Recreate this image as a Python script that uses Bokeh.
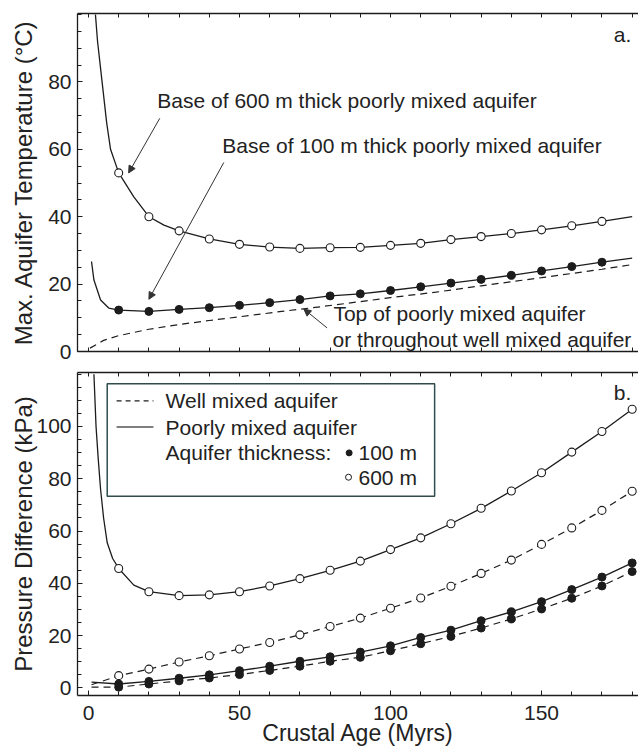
from bokeh.plotting import figure
from bokeh.models import FixedTicker, LinearAxis, Label, Arrow, NormalHead, Range1d, Div
from bokeh.layouts import column
from bokeh.embed import file_html
from bokeh.resources import INLINE

FONT = "Liberation Sans"
INK = "#1c1c1c"
TXT = "#222222"

# ---------------- data ----------------
ages_top = [10, 20, 30, 40, 50, 60, 70, 80, 90, 100, 110, 120, 130, 140, 150, 160, 170]
ages_bot = [10, 20, 30, 40, 50, 60, 70, 80, 90, 100, 110, 120, 130, 140, 150, 160, 170, 180]

# (a) maximum aquifer temperature, degC
temp_600_pts = [53.0, 40.0, 35.8, 33.4, 31.8, 31.0, 30.6, 30.8, 30.9, 31.5, 32.1, 33.2,
                34.1, 35.0, 36.1, 37.3, 38.6]
temp_100_pts = [12.3, 11.9, 12.5, 13.0, 13.7, 14.5, 15.4, 16.5, 17.1, 18.1, 19.2, 20.3,
                21.4, 22.6, 23.9, 25.2, 26.5]
# continuous curves (age, value)
temp_600_curve_x = [2.3, 3.0, 4.0, 4.5, 6.0, 7.3, 10, 15, 20, 25, 30, 40, 50, 60, 70, 80, 90,
                    100, 110, 120, 130, 140, 150, 160, 170, 180]
temp_600_curve_y = [100, 92, 84, 80, 68, 60, 53.0, 45.9, 40.0, 37.5, 35.8, 33.4, 31.8, 31.0,
                    30.6, 30.8, 30.9, 31.5, 32.1, 33.2, 34.1, 35.0, 36.1, 37.3, 38.6, 40.0]
temp_100_curve_x = [1.0, 1.8, 4.0, 6.7, 10, 20, 30, 40, 50, 60, 70, 80, 90, 100, 110, 120,
                    130, 140, 150, 160, 170, 180]
temp_100_curve_y = [26.7, 21.2, 15.3, 12.9, 12.3, 11.9, 12.5, 13.0, 13.7, 14.5, 15.4, 16.5,
                    17.1, 18.1, 19.2, 20.3, 21.4, 22.6, 23.9, 25.2, 26.5, 27.7]
temp_top_x = [0.5, 5, 10, 20, 30, 40, 50, 64, 77, 90, 100, 115, 130, 150, 170, 180]
temp_top_y = [1.0, 3.3, 4.7, 6.6, 8.0, 9.2, 10.3, 11.9, 13.3, 14.8, 16.0, 17.6, 19.5,
              21.9, 24.4, 25.8]

# (b) pressure difference, kPa
pres_600_poor = [45.7, 36.8, 35.3, 35.6, 36.8, 39.0, 41.8, 45.0, 48.5, 52.9, 57.4, 62.8,
                 68.7, 75.3, 82.3, 90.2, 98.1, 106.6]
pres_600_well = [4.7, 7.2, 9.9, 12.3, 14.9, 17.4, 20.3, 23.5, 26.7, 30.5, 34.4, 38.9,
                 43.8, 48.9, 54.9, 61.2, 67.9, 75.2]
pres_100_poor = [1.5, 2.5, 3.7, 5.0, 6.6, 8.3, 10.2, 11.9, 13.7, 16.1, 19.3, 22.1,
                 25.7, 29.1, 33.0, 37.6, 42.4, 47.8]
pres_100_well = [0.3, 1.5, 2.7, 3.8, 5.1, 6.7, 8.3, 10.2, 11.7, 14.2, 16.9, 19.7,
                 22.9, 26.4, 30.2, 34.3, 39.0, 44.5]
pres_600_poor_start_x = [1.8, 2.5, 3.2, 4.0, 5.0, 6.2, 8.0, 10, 15, 20]
pres_600_poor_start_y = [120, 100, 88, 76, 65, 55.5, 49.5, 45.7, 39.3, 36.8]
start_age = 1.0
pres_600_well_start = 1.2
pres_100_poor_start = 2.2
pres_100_well_start = 0.3

x_ticks = [0, 50, 100, 150]
x_minor = list(range(0, 181, 10))

X_LO, X_HI = -3.64, 182.1
B_LO, B_HI = -2.9, 120.65


def base_axis(ax):
    ax.axis_line_color = INK
    ax.axis_line_width = 1.3
    ax.major_tick_line_color = INK
    ax.minor_tick_line_color = INK
    ax.major_tick_in = 5
    ax.major_tick_out = 0
    ax.minor_tick_in = 4
    ax.minor_tick_out = 0
    ax.major_label_text_font = FONT
    ax.major_label_text_color = TXT
    ax.major_label_text_font_size = "21px"
    ax.axis_label_text_font = FONT
    ax.axis_label_text_font_style = "normal"
    ax.axis_label_text_color = TXT
    ax.axis_label_text_font_size = "24px"


def frame_axis(p, loc):
    # unlabelled axis that only closes the frame and carries inward ticks
    ax = LinearAxis(ticker=FixedTicker(ticks=[], minor_ticks=x_minor))
    base_axis(ax)
    ax.major_label_standoff = 0
    p.add_layout(ax, loc)


def make_fig(y_lo, y_hi, fh, top, bottom):
    p = figure(frame_width=561, frame_height=fh,
               x_range=Range1d(X_LO, X_HI), y_range=Range1d(y_lo, y_hi),
               output_backend="svg", toolbar_location=None,
               x_axis_location=None, y_axis_location=None,
               min_border_left=77, min_border_right=0,
               min_border_top=top, min_border_bottom=bottom)
    p.grid.visible = False
    p.outline_line_color = None
    p.background_fill_color = "white"
    p.border_fill_color = "white"
    return p


def note(p, x, y, text, size="21px", align="left", baseline="middle"):
    p.add_layout(Label(x=x, y=y, text=text, text_font=FONT, text_font_size=size,
                       text_color=TXT, text_baseline=baseline, text_align=align))


def pointer(p, x0, y0, x1, y1):
    p.add_layout(Arrow(end=NormalHead(size=7, fill_color="#333333", line_color="#333333"),
                       x_start=x0, y_start=y0, x_end=x1, y_end=y1,
                       line_color="#333333", line_width=1.0))


# ---------------- panel a ----------------
pa = make_fig(0, 100.3, 338, 13, 20)

ya = LinearAxis(ticker=FixedTicker(ticks=[0, 20, 40, 60, 80], minor_ticks=list(range(0, 101, 5))),
                axis_label="Max. Aquifer Temperature (°C)")
base_axis(ya)
ya.major_label_standoff = 6
ya.axis_label_standoff = 8
pa.add_layout(ya, "left")
frame_axis(pa, "below")
frame_axis(pa, "above")

pa.line(temp_top_x, temp_top_y, line_color=INK, line_width=1.2, line_dash="7 5")
pa.line(temp_600_curve_x, temp_600_curve_y, line_color=INK, line_width=1.3)
pa.line(temp_100_curve_x, temp_100_curve_y, line_color=INK, line_width=1.3)
pa.scatter(ages_top, temp_600_pts, marker="circle", size=8, fill_color="white",
           line_color=INK, line_width=1.1)
pa.scatter(ages_top, temp_100_pts, marker="circle", size=8, fill_color=INK,
           line_color=INK, line_width=1.0)

note(pa, 22.8, 74.6, "Base of 600 m thick poorly mixed aquifer")
note(pa, 44.3, 61.0, "Base of 100 m thick poorly mixed aquifer")
note(pa, 81.1, 11.2, "Top of poorly mixed aquifer")
note(pa, 80.8, 3.5, "or throughout well mixed aquifer")
note(pa, 173.9, 94.0, "a.")
pointer(pa, 23.6, 69.2, 13.3, 53.0)
pointer(pa, 44.8, 56.1, 20.0, 15.5)
pointer(pa, 79.0, 7.0, 71.3, 12.6)

# ---------------- panel b ----------------
pb = make_fig(B_LO, B_HI, 323, 1, 34)

yb = LinearAxis(ticker=FixedTicker(ticks=[0, 20, 40, 60, 80, 100], minor_ticks=list(range(0, 121, 5))),
                axis_label="Pressure Difference (kPa)")
base_axis(yb)
yb.major_label_standoff = 6
yb.axis_label_standoff = -4
pb.add_layout(yb, "left")

xb = LinearAxis(ticker=FixedTicker(ticks=x_ticks, minor_ticks=x_minor))
base_axis(xb)
xb.major_label_standoff = 10
pb.add_layout(xb, "below")
frame_axis(pb, "above")

pb.line(pres_600_poor_start_x + ages_bot[2:], pres_600_poor_start_y + pres_600_poor[2:],
        line_color=INK, line_width=1.3)
pb.line([start_age] + ages_bot, [pres_600_well_start] + pres_600_well,
        line_color=INK, line_width=1.2, line_dash="7 5")
pb.line([start_age] + ages_bot, [pres_100_poor_start] + pres_100_poor,
        line_color=INK, line_width=1.3)
pb.line([start_age] + ages_bot, [pres_100_well_start] + pres_100_well,
        line_color=INK, line_width=1.2, line_dash="7 5")
for vals in (pres_600_poor, pres_600_well):
    pb.scatter(ages_bot, vals, marker="circle", size=8, fill_color="white",
               line_color=INK, line_width=1.1)
for vals in (pres_100_poor, pres_100_well):
    pb.scatter(ages_bot, vals, marker="circle", size=8, fill_color=INK,
               line_color=INK, line_width=1.0)

# legend box
pb.quad(left=[6.2], right=[114.6], bottom=[73.3], top=[116.3], fill_color="white",
        line_color="#2f4d4d", line_width=1.5)
pb.line([9.3, 21.5], [109.8, 109.8], line_color=INK, line_width=1.2, line_dash="5 4")
pb.line([9.3, 21.5], [99.8, 99.8], line_color="#555555", line_width=1.5)
note(pb, 25.5, 109.9, "Well mixed aquifer")
note(pb, 25.5, 99.7, "Poorly mixed aquifer")
note(pb, 25.5, 89.9, "Aquifer thickness:")
pb.scatter([86.3], [89.9], marker="circle", size=6, fill_color=INK, line_color=INK)
pb.scatter([86.1], [80.6], marker="circle", size=6, fill_color="white", line_color=INK,
           line_width=1.0)
note(pb, 89.4, 89.9, "100 m")
note(pb, 89.4, 80.6, "600 m")
note(pb, 173.9, 113.1, "b.")

# shared x-axis title, centred under the plotting frame
xtitle = Div(text="Crustal Age (Myrs)", width=561, height=17, margin=(0, 0, 0, 77),
             styles={"font-family": FONT, "font-size": "23px", "line-height": "8px",
                     "color": TXT, "text-align": "center", "white-space": "nowrap"})

layout = column(pa, pb, xtitle, spacing=0)
open("out.html", "w").write(file_html(layout, INLINE))
